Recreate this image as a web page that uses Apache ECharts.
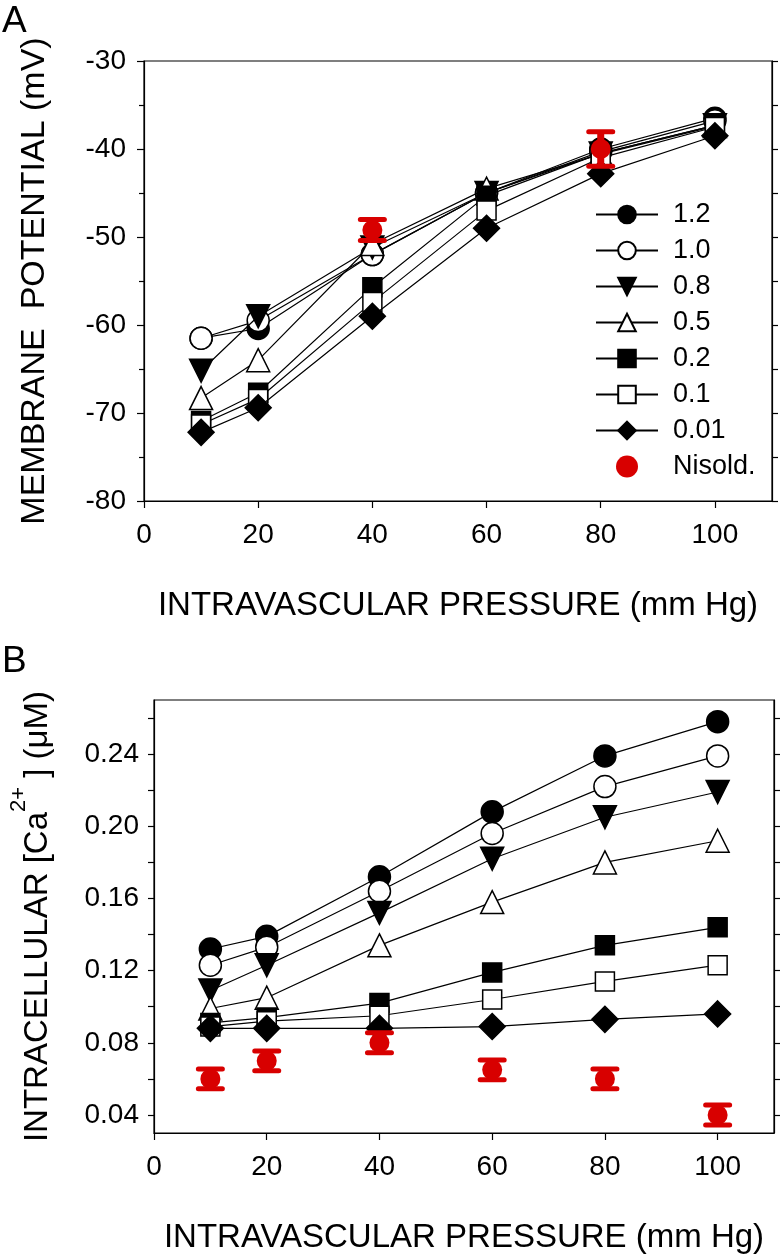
<!DOCTYPE html>
<html><head><meta charset="utf-8">
<script src="https://cdn.jsdelivr.net/npm/echarts@6/dist/echarts.min.js"></script>
<style>html,body{margin:0;padding:0;background:#fff}#c{width:783px;height:1257px}</style>
</head><body><div id="c"></div>
<script>
// ---- data ----
const pressure = [10, 20, 40, 60, 80, 100];
const xTickValues = [0, 20, 40, 60, 80, 100];
const seriesNames = ['1.2', '1.0', '0.8', '0.5', '0.2', '0.1', '0.01'];
const nisName = 'Nisold.';

// Panel A: membrane potential (mV)
const vm_12  = [-61.5, -60.4, -52.0, -45.0, -40.0, -36.5];
const vm_10  = [-61.5, -59.5, -52.0, -45.0, -40.3, -36.8];
const vm_08  = [-65.2, -59.0, -51.2, -45.0, -40.5, -37.3];
const vm_05  = [-68.3, -64.0, -50.8, -44.5, -40.6, -37.4];
const vm_02  = [-70.9, -67.7, -55.7, -45.3, -40.5, -37.3];
const vm_01  = [-71.3, -68.4, -57.4, -47.0, -41.0, -37.5];
const vm_001 = [-72.2, -69.4, -59.0, -49.0, -42.8, -38.5];
const vmNisX   = [40, 80];
const vmNis    = [-49.2, -40.0];
const vmNisErr = [1.2, 1.95];
const vmTickMin = -80, vmTickMax = -30;

// Panel B: intracellular Ca (uM)
const ca_12  = [0.132, 0.139, 0.172, 0.208, 0.239, 0.258];
const ca_10  = [0.123, 0.133, 0.164, 0.196, 0.222, 0.239];
const ca_08  = [0.109, 0.123, 0.152, 0.182, 0.205, 0.219];
const ca_05  = [0.099, 0.105, 0.134, 0.158, 0.180, 0.192];
const ca_02  = [0.091, 0.094, 0.102, 0.119, 0.134, 0.144];
const ca_01  = [0.089, 0.092, 0.095, 0.104, 0.114, 0.123];
const ca_001 = [0.088, 0.088, 0.088, 0.089, 0.093, 0.096];
const caNis    = [0.060, 0.070, 0.080, 0.065, 0.060, 0.040];
const caNisErr = [0.0055, 0.0055, 0.0055, 0.0055, 0.0055, 0.0055];
const caLabelTicks = [0.04, 0.08, 0.12, 0.16, 0.20, 0.24];
const caMinorTicks = [0.04, 0.06, 0.08, 0.10, 0.12, 0.14, 0.16, 0.18, 0.20, 0.22, 0.24, 0.26];
const caMin = 0.03, caMax = 0.27;

// ---- styling ----
const FONT = 'Liberation Sans, Arial, sans-serif';
const RED = '#d80000';
const markerStyles = [
  {symbol: 'circle', size: 22, fill: '#000', rot: 0},
  {symbol: 'circle', size: 22, fill: '#fff', rot: 0},
  {symbol: 'triangle', size: 23, fill: '#000', rot: 180},
  {symbol: 'triangle', size: 23, fill: '#fff', rot: 0},
  {symbol: 'rect', size: 19, fill: '#000', rot: 0},
  {symbol: 'rect', size: 19, fill: '#fff', rot: 0},
  {symbol: 'diamond', size: 26, fill: '#000', rot: 0}
];
const vmSets = [vm_12, vm_10, vm_08, vm_05, vm_02, vm_01, vm_001];
const caSets = [ca_12, ca_10, ca_08, ca_05, ca_02, ca_01, ca_001];

function lineSeries(name, vals, idx, axisIdx) {
  const m = markerStyles[idx];
  return {
    type: 'line', name: name, xAxisIndex: axisIdx, yAxisIndex: axisIdx * 2,
    data: pressure.map((p, i) => [p, vals[i]]),
    symbol: m.symbol, symbolSize: m.size, symbolRotate: m.rot,
    showAllSymbol: true,
    lineStyle: {color: '#000', width: 1.2},
    itemStyle: {color: m.fill, borderColor: '#000', borderWidth: 1.5, opacity: 1},
    emphasis: {disabled: true}, animation: false, z: 2 + idx * 0.01
  };
}
function errRender(params, api) {
  const x = api.value(0), y = api.value(1), e = api.value(2);
  const top = api.coord([x, y + e]), bot = api.coord([x, y - e]);
  const w = 12;
  const st = {stroke: RED, lineWidth: 5, lineCap: 'round'};
  return {type: 'group', children: [
    {type: 'line', shape: {x1: top[0], y1: top[1], x2: bot[0], y2: bot[1]}, style: {stroke: RED, lineWidth: 7}},
    {type: 'line', shape: {x1: top[0] - w, y1: top[1], x2: top[0] + w, y2: top[1]}, style: st},
    {type: 'line', shape: {x1: bot[0] - w, y1: bot[1], x2: bot[0] + w, y2: bot[1]}, style: st}
  ]};
}

const series = [];
seriesNames.forEach((n, i) => series.push(lineSeries(n, vmSets[i], i, 0)));
seriesNames.forEach((n, i) => series.push(lineSeries(n, caSets[i], i, 1)));
series.push({type: 'custom', name: 'errA', xAxisIndex: 0, yAxisIndex: 0, renderItem: errRender,
  data: vmNisX.map((x, i) => [x, vmNis[i], vmNisErr[i]]), encode: {x: 0, y: 1}, z: 5, animation: false});
series.push({type: 'scatter', name: nisName, xAxisIndex: 0, yAxisIndex: 0, symbol: 'circle', symbolSize: 20,
  itemStyle: {color: RED, opacity: 1}, data: vmNisX.map((x, i) => [x, vmNis[i]]), z: 6, animation: false});
series.push({type: 'custom', name: 'errB', xAxisIndex: 1, yAxisIndex: 2, renderItem: errRender,
  data: pressure.map((x, i) => [x, caNis[i], caNisErr[i]]), encode: {x: 0, y: 1}, z: 5, animation: false});
series.push({type: 'scatter', name: nisName, xAxisIndex: 1, yAxisIndex: 2, symbol: 'circle', symbolSize: 20,
  itemStyle: {color: RED, opacity: 1}, data: pressure.map((x, i) => [x, caNis[i]]), z: 6, animation: false});

const axLine = {show: true, lineStyle: {color: '#000', width: 1.2}};
function xAx(gi) {
  return {
    type: 'value', gridIndex: gi, min: 0, max: 110, position: 'bottom',
    axisLine: axLine,
    axisTick: {show: true, inside: false, length: 7, lineStyle: {color: '#000', width: 1.2}, customValues: xTickValues},
    axisLabel: {fontSize: 28, color: '#000', fontFamily: FONT, margin: 20, customValues: xTickValues},
    splitLine: {show: false},
    name: 'INTRAVASCULAR PRESSURE (mm Hg)', nameLocation: 'middle', nameGap: 88,
    nameTextStyle: {fontSize: 33, color: '#000', fontFamily: FONT}
  };
}

const chart = echarts.init(document.getElementById('c'), null, {renderer: 'canvas'});
chart.setOption({
  backgroundColor: '#fff',
  animation: false,
  textStyle: {fontFamily: FONT},
  grid: [
    {left: 144, top: 61, width: 628, height: 440, show: true, borderColor: '#000', borderWidth: 1.2, backgroundColor: 'transparent'},
    {left: 153, top: 700, width: 621, height: 433, show: true, borderColor: '#000', borderWidth: 1.2, backgroundColor: 'transparent'}
  ],
  xAxis: [xAx(0), xAx(1)],
  yAxis: [
    {type: 'value', gridIndex: 0, min: vmTickMin, max: vmTickMax, interval: 10, position: 'left',
     axisLine: axLine,
     axisTick: {show: true, length: 7, lineStyle: {color: '#000', width: 1.2}},
     minorTick: {show: true, splitNumber: 2, length: 5, lineStyle: {color: '#000', width: 1.2}},
     axisLabel: {fontSize: 28, color: '#000', fontFamily: FONT, margin: 18},
     splitLine: {show: false},
     name: 'MEMBRANE  POTENTIAL (mV)', nameLocation: 'middle', nameRotate: 90, nameGap: 92,
     nameTextStyle: {fontSize: 34, color: '#000', fontFamily: FONT}},
    {type: 'value', gridIndex: 0, min: vmTickMin, max: vmTickMax, interval: 10, position: 'right',
     axisLine: axLine,
     axisTick: {show: true, length: 6, lineStyle: {color: '#000', width: 1.2}},
     minorTick: {show: true, splitNumber: 2, length: 6, lineStyle: {color: '#000', width: 1.2}},
     axisLabel: {show: false}, splitLine: {show: false}},
    {type: 'value', gridIndex: 1, min: caMin, max: caMax, position: 'left',
     axisLine: axLine,
     axisTick: {show: true, length: 6, lineStyle: {color: '#000', width: 1.2}, customValues: caMinorTicks},
     axisLabel: {fontSize: 28, color: '#000', fontFamily: FONT, margin: 15, customValues: caLabelTicks,
       formatter: v => v.toFixed(2)},
     splitLine: {show: false},
     name: '{a|INTRACELLULAR [Ca}{s|2+}{a| ] (}{a|\u03BCM)}', nameLocation: 'middle', nameRotate: 90, nameGap: 100,
     nameTextStyle: {color: '#000', fontFamily: FONT,
       rich: {a: {fontSize: 33, lineHeight: 46, verticalAlign: 'bottom', fontFamily: FONT, color: '#000'},
              s: {fontSize: 22, lineHeight: 22, verticalAlign: 'top', fontFamily: FONT, color: '#000'}}}},
    {type: 'value', gridIndex: 1, min: caMin, max: caMax, position: 'right',
     axisLine: axLine,
     axisTick: {show: true, length: 6, lineStyle: {color: '#000', width: 1.2}, customValues: caMinorTicks},
     axisLabel: {show: false}, splitLine: {show: false}}
  ],
  legend: {
    data: seriesNames.concat([nisName]),
    orient: 'vertical', left: 590, top: 196, itemWidth: 62, itemHeight: 22, itemGap: 9,
    symbolRotate: 'inherit',
    textStyle: {fontSize: 27, lineHeight: 22, color: '#000', fontFamily: FONT, padding: [0, 0, 0, 10]},
    selectedMode: false
  },
  graphic: [
    {type: 'text', left: 2, top: 3, style: {text: 'A', fontSize: 37, fill: '#000', fontFamily: FONT}},
    {type: 'text', left: 2, top: 643, style: {text: 'B', fontSize: 37, fill: '#000', fontFamily: FONT}}
  ],
  series: series
});
</script>
</body></html>
